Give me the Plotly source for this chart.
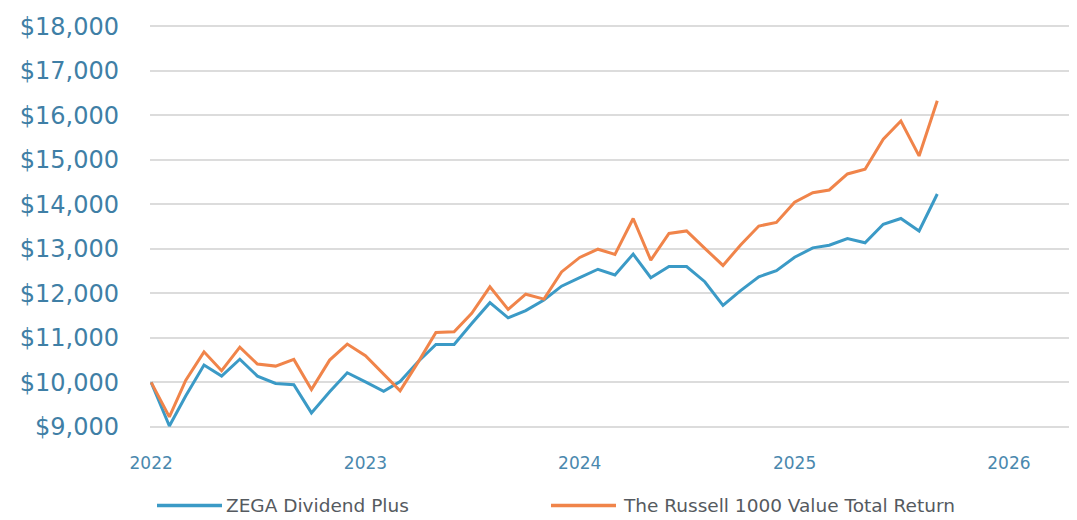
import pandas as pd
import plotly.graph_objects as go

dates = pd.date_range("2022-01-01", periods=45, freq="MS")

zega = [10000, 9020, 9700, 10390, 10140, 10520, 10140, 9975, 9945, 9315,
        9790, 10215, 10010, 9800, 10020, 10470, 10850, 10850, 11320, 11790,
        11450, 11610, 11850, 12160, 12350, 12540, 12410, 12880, 12350, 12600,
        12600, 12260, 11730, 12060, 12370, 12510, 12810, 13020, 13080, 13230,
        13135, 13550, 13680, 13400, 14230]

russell = [10000, 9225, 10050, 10685, 10260, 10790, 10410, 10365, 10515, 9840,
           10500, 10860, 10600, 10180, 9810, 10460, 11120, 11135, 11550, 12145,
           11640, 11980, 11870, 12480, 12805, 12990, 12875, 13680, 12745, 13345,
           13400, 13010, 12625, 13085, 13510, 13590, 14045, 14260, 14320, 14680,
           14785, 15460, 15870, 15085, 16325]

series_names = ["ZEGA Dividend Plus", "The Russell 1000 Value Total Return"]
series_colors = ["#3b9ac6", "#f0844a"]
y_ticks = list(range(9000, 18001, 1000))
y_tick_labels = ["$" + f"{v:,}" for v in y_ticks]
x_ticks = ["2022-01-01", "2023-01-01", "2024-01-01", "2025-01-01", "2026-01-01"]
x_tick_labels = ["2022", "2023", "2024", "2025", "2026"]

# page body has an 8px margin; size the figure to fill the rest of the window
OFF = 8
W, H = 1077 - OFF, 520 - OFF
ML, MR, MT, MB = 150 - OFF, 0, 25 - OFF, 92
PW, PH = W - ML - MR, H - MT - MB

def px_x(p):
    return (p - OFF - ML) / PW

def px_y(p):
    return (H - MB - (p - OFF)) / PH

fig = go.Figure()
for name, vals, col in zip(series_names, [zega, russell], series_colors):
    fig.add_trace(go.Scatter(x=dates, y=vals, name=name, mode="lines",
                             line=dict(color=col, width=3), showlegend=False))

# legend drawn as line samples + text
legend_y = px_y(505.5)
legend_items = [(157, 222, 225), (551, 616, 622)]
for (x0, x1, tx), name, col in zip(legend_items, series_names, series_colors):
    fig.add_shape(type="line", xref="paper", yref="paper",
                  x0=px_x(x0), x1=px_x(x1), y0=legend_y, y1=legend_y,
                  line=dict(color=col, width=3.5))
    fig.add_annotation(xref="paper", yref="paper", x=px_x(tx), y=legend_y,
                       xanchor="left", yanchor="middle", showarrow=False,
                       text=name, borderpad=0,
                       font=dict(family="DejaVu Sans", size=18.5, color="#555a60"))

fig.update_layout(
    width=W, height=H,
    margin=dict(l=ML, r=MR, t=MT, b=MB),
    plot_bgcolor="white", paper_bgcolor="white",
    font=dict(family="DejaVu Sans", color="#3f7fa6"),
    showlegend=False,
)
fig.update_xaxes(
    range=["2021-12-30", "2026-04-27"],
    tickvals=x_ticks, ticktext=x_tick_labels,
    showgrid=False, zeroline=False, showline=False, automargin=False,
    tickfont=dict(family="DejaVu Sans", size=17, color="#4a88ae"),
    ticklabelstandoff=23,
)
fig.update_yaxes(
    range=[8975, 18025], tickvals=y_ticks, ticktext=y_tick_labels,
    showgrid=True, gridcolor="#dcdcdc", gridwidth=2, zeroline=False, showline=False,
    automargin=False,
    tickfont=dict(family="DejaVu Sans", size=24, color="#3f7fa6"),
    ticklabelstandoff=30,
)

fig.write_html("out.html")
